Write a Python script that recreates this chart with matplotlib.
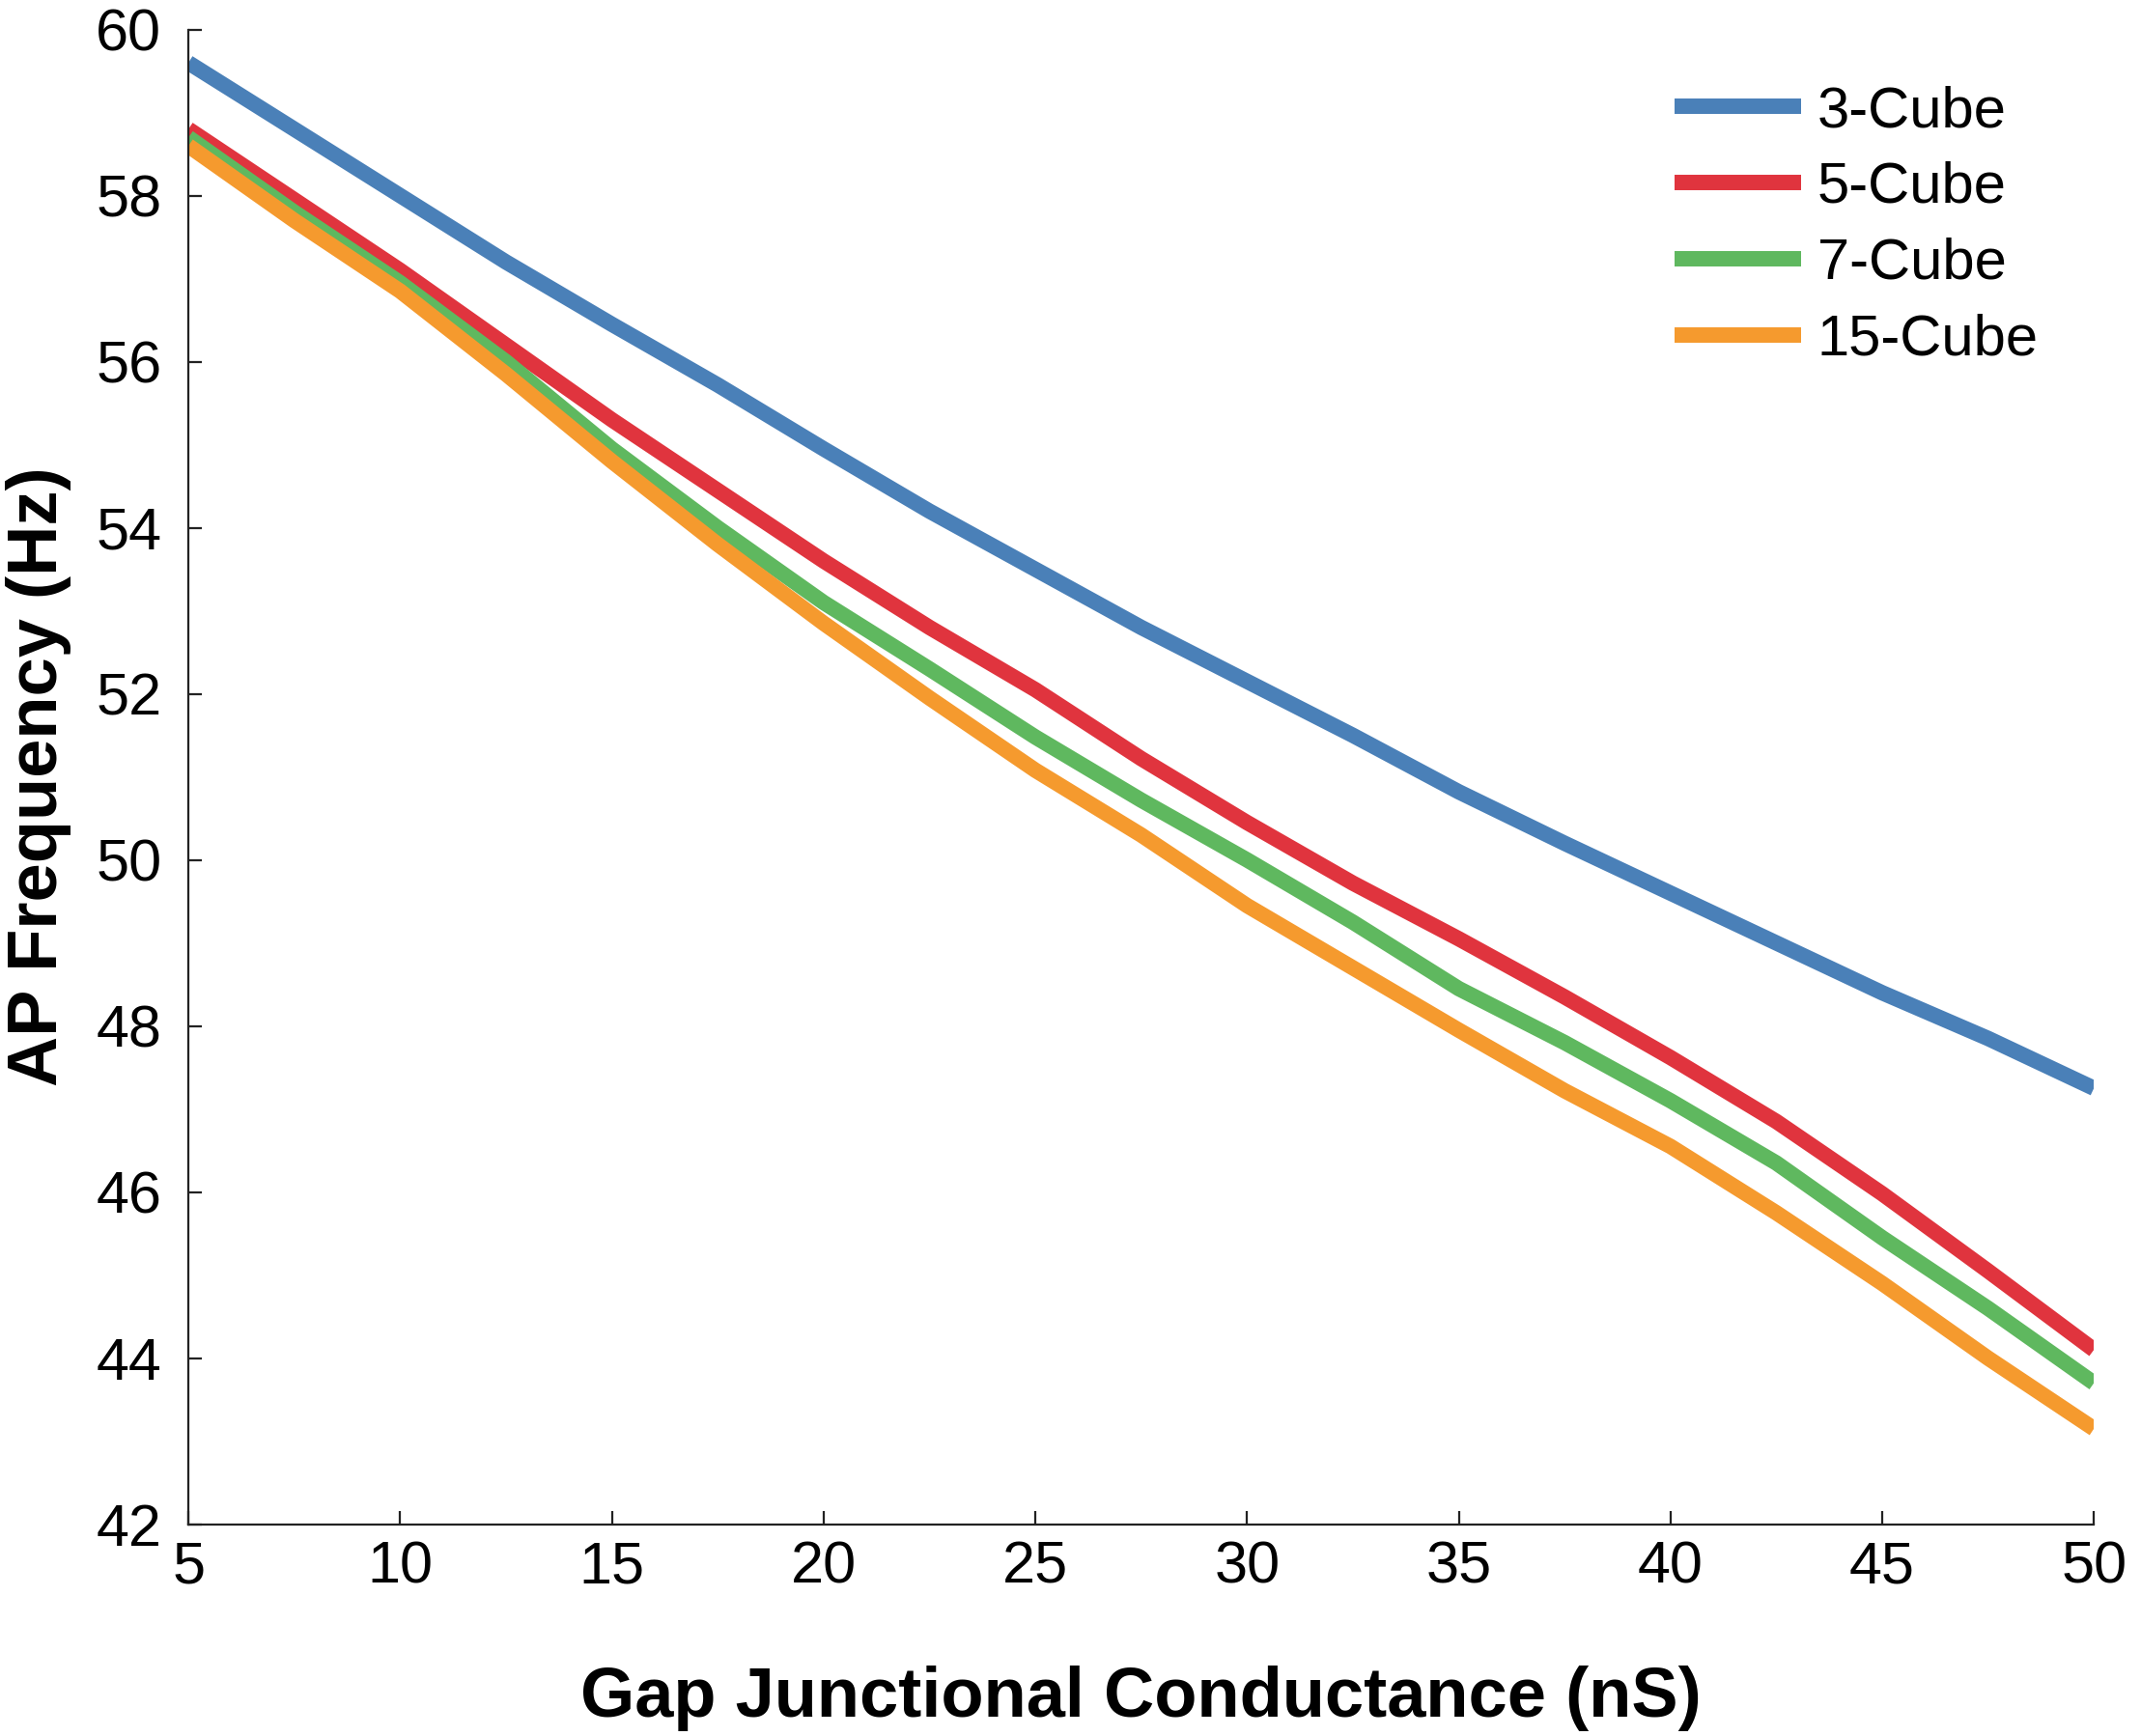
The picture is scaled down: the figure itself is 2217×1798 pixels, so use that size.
import numpy as np
import matplotlib
matplotlib.use("Agg")
import matplotlib.pyplot as plt

plt.rcParams['font.family'] = ['Liberation Sans', 'DejaVu Sans']

# gap junctional conductance (nS)
g = [5, 7.5, 10, 12.5, 15, 17.5, 20, 22.5, 25, 27.5,
     30, 32.5, 35, 37.5, 40, 42.5, 45, 47.5, 50]

# AP frequency (Hz) for each cube size
cube3 = [59.6, 58.8, 58.0, 57.2, 56.45, 55.72, 54.95, 54.2, 53.5, 52.8,
         52.15, 51.5, 50.82, 50.2, 49.6, 49.0, 48.4, 47.85, 47.25]
cube5 = [58.8, 57.95, 57.1, 56.2, 55.3, 54.45, 53.6, 52.8, 52.05, 51.22,
         50.45, 49.72, 49.05, 48.35, 47.62, 46.85, 45.98, 45.05, 44.1]
cube7 = [58.7, 57.8, 56.95, 56.0, 54.95, 54.0, 53.1, 52.3, 51.48, 50.72,
         50.0, 49.25, 48.45, 47.8, 47.1, 46.35, 45.45, 44.6, 43.7]
cube15 = [58.6, 57.7, 56.85, 55.85, 54.8, 53.8, 52.85, 51.95, 51.08, 50.3,
          49.45, 48.7, 47.95, 47.22, 46.55, 45.75, 44.9, 44.0, 43.15]

labels = ["3-Cube", "5-Cube", "7-Cube", "15-Cube"]
colors = ["#4a80b8", "#e0343e", "#5fb85f", "#f59a2e"]

fig = plt.figure(figsize=(22.17, 17.98), dpi=100)
ax = fig.add_axes([0.088, 0.122, 0.890, 0.861])

for ys, lab, col in zip([cube3, cube5, cube7, cube15], labels, colors):
    ax.plot(g, ys, color=col, lw=11.5, label=lab, solid_capstyle='butt',
            solid_joinstyle='round')

ax.set_xlim(5, 50)
ax.set_ylim(42, 60)
ax.set_xticks(np.arange(5, 51, 5))
ax.set_yticks(np.arange(42, 61, 2))

for side in ['top', 'right']:
    ax.spines[side].set_visible(False)
for side in ['left', 'bottom']:
    ax.spines[side].set_linewidth(1.6)
    ax.spines[side].set_color('#222222')

ax.tick_params(axis='both', direction='in', length=10, width=1.6,
               labelsize=44, colors='#222222', labelcolor='black')
ax.tick_params(axis='x', pad=12)
ax.tick_params(axis='y', pad=20)

ax.set_xlabel("Gap Junctional Conductance (nS)", fontsize=52,
              fontweight='bold', labelpad=52)
ax.set_ylabel("AP Frequency (Hz)", fontsize=52, fontweight='bold',
              labelpad=18)

leg = ax.legend(loc='upper left', bbox_to_anchor=(0.782, 0.951),
                bbox_transform=fig.transFigure, frameon=False,
                fontsize=43, handlelength=2.2, handletextpad=0.28,
                labelspacing=0.4, borderpad=0, borderaxespad=0)

fig.savefig("out.png", dpi=100, facecolor='white')
